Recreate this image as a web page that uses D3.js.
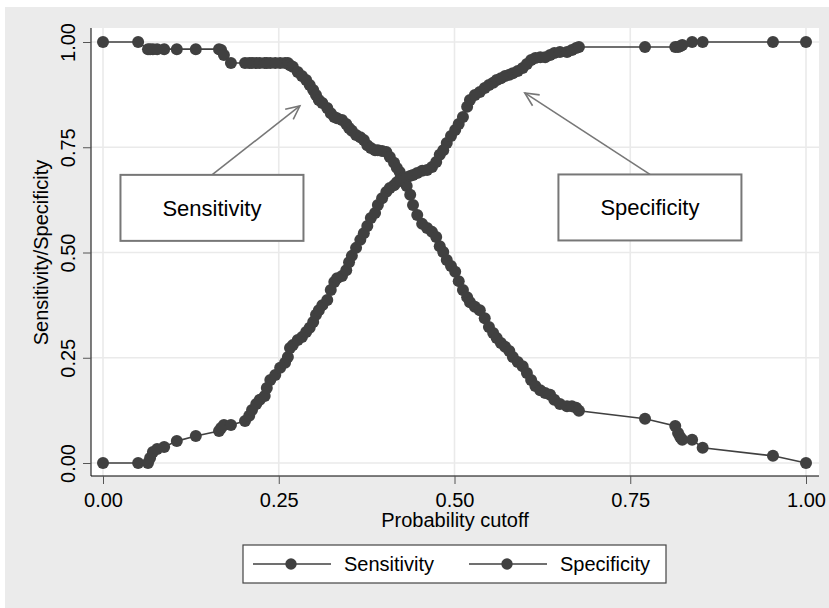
<!DOCTYPE html>
<html>
<head>
<meta charset="utf-8">
<script src="https://cdn.jsdelivr.net/npm/d3@7"></script>
<style>
  body { margin: 0; background: #fff; }
  svg text { font-family: "Liberation Sans", Arial, sans-serif; fill: #000; }
</style>
</head>
<body>
<div id="container"></div>
<script>
// probability cutoffs and the two curves evaluated at each cutoff
const cutoffs = [
  0, 0.050, 0.064, 0.067, 0.071, 0.077, 0.087, 0.105, 0.132, 0.165,
  0.168, 0.172, 0.182, 0.202, 0.208, 0.212, 0.218, 0.223, 0.230, 0.233,
  0.238, 0.245, 0.252, 0.259, 0.263, 0.266, 0.270, 0.277, 0.283, 0.289,
  0.294, 0.299, 0.303, 0.307, 0.312, 0.319, 0.324, 0.329, 0.333, 0.340,
  0.346, 0.350, 0.354, 0.360, 0.366, 0.371, 0.376, 0.381, 0.387, 0.391,
  0.397, 0.403, 0.408, 0.414, 0.418, 0.422, 0.428, 0.432, 0.437, 0.441,
  0.447, 0.454, 0.461, 0.468, 0.474, 0.479, 0.484, 0.489, 0.495, 0.501,
  0.506, 0.512, 0.518, 0.522, 0.529, 0.536, 0.543, 0.549, 0.555, 0.560,
  0.566, 0.572, 0.578, 0.583, 0.590, 0.597, 0.603, 0.609, 0.615, 0.622,
  0.629, 0.636, 0.642, 0.650, 0.660, 0.667, 0.673, 0.677, 0.771, 0.814,
  0.818, 0.821, 0.824, 0.838, 0.853, 0.953, 1.000
];
const sensitivity = [
  1.000, 1.000, 0.983, 0.983, 0.983, 0.983, 0.983, 0.983, 0.983, 0.983,
  0.981, 0.969, 0.950, 0.950, 0.950, 0.950, 0.950, 0.950, 0.950, 0.950,
  0.950, 0.950, 0.950, 0.950, 0.950, 0.945, 0.941, 0.929, 0.919, 0.910,
  0.898, 0.886, 0.874, 0.862, 0.855, 0.843, 0.831, 0.822, 0.819, 0.815,
  0.805, 0.796, 0.789, 0.779, 0.774, 0.767, 0.755, 0.748, 0.743, 0.743,
  0.741, 0.739, 0.727, 0.713, 0.701, 0.691, 0.677, 0.658, 0.637, 0.613,
  0.589, 0.568, 0.558, 0.549, 0.537, 0.515, 0.501, 0.482, 0.468, 0.454,
  0.432, 0.411, 0.394, 0.382, 0.371, 0.363, 0.344, 0.323, 0.309, 0.297,
  0.285, 0.276, 0.266, 0.252, 0.240, 0.230, 0.214, 0.197, 0.183, 0.173,
  0.166, 0.162, 0.150, 0.140, 0.135, 0.135, 0.131, 0.124, 0.105, 0.088,
  0.071, 0.062, 0.055, 0.055, 0.036, 0.017, 0
];
const specificity = [
  0, 0, 0, 0.012, 0.026, 0.033, 0.038, 0.052, 0.064, 0.076,
  0.083, 0.090, 0.090, 0.100, 0.112, 0.126, 0.140, 0.150, 0.159, 0.178,
  0.197, 0.209, 0.226, 0.238, 0.252, 0.273, 0.280, 0.292, 0.299, 0.311,
  0.321, 0.335, 0.352, 0.363, 0.375, 0.387, 0.411, 0.430, 0.439, 0.444,
  0.458, 0.477, 0.492, 0.511, 0.530, 0.546, 0.563, 0.582, 0.594, 0.613,
  0.629, 0.644, 0.653, 0.660, 0.667, 0.672, 0.677, 0.679, 0.682, 0.684,
  0.689, 0.694, 0.696, 0.703, 0.715, 0.732, 0.743, 0.760, 0.777, 0.791,
  0.805, 0.822, 0.846, 0.862, 0.874, 0.881, 0.891, 0.898, 0.903, 0.910,
  0.914, 0.919, 0.922, 0.926, 0.931, 0.938, 0.948, 0.957, 0.962, 0.964,
  0.964, 0.969, 0.974, 0.976, 0.976, 0.981, 0.986, 0.988, 0.988, 0.988,
  0.988, 0.990, 0.993, 1.000, 1.000, 1.000, 1.000
];
const tickValues = [0, 0.25, 0.5, 0.75, 1];
const seriesNames = ["Sensitivity", "Specificity"];

// text boxes with arrows (box centre and arrow tip in data units)
const notes = [
  {label: "Sensitivity", x: 0.155, y: 0.606, tipX: 0.280, tipY: 0.848},
  {label: "Specificity", x: 0.778, y: 0.607, tipX: 0.600, tipY: 0.879}
];

const W = 829, H = 608;
const dark = "#404040";

const svg = d3.select("#container").append("svg")
  .attr("width", W).attr("height", H);

svg.append("rect").attr("x", 5).attr("y", 7)
  .attr("width", W - 5).attr("height", H - 7).attr("fill", "#ebebeb");

const plot = {left: 91, right: 819, top: 28, bottom: 476};
svg.append("rect")
  .attr("x", plot.left).attr("y", plot.top)
  .attr("width", plot.right - plot.left).attr("height", plot.bottom - plot.top)
  .attr("fill", "#fff");

const x = d3.scaleLinear().domain([0, 1]).range([103, 806]);
const y = d3.scaleLinear().domain([0, 1]).range([463, 42]);

// grid
const grid = svg.append("g").attr("stroke", "#eaeaea").attr("stroke-width", 1.6);
grid.selectAll("line.h").data(tickValues).enter().append("line")
  .attr("x1", plot.left).attr("x2", plot.right)
  .attr("y1", d => y(d)).attr("y2", d => y(d));
grid.selectAll("line.v").data(tickValues).enter().append("line")
  .attr("y1", plot.top).attr("y2", plot.bottom)
  .attr("x1", d => x(d)).attr("x2", d => x(d));

// axes
const xAxis = svg.append("g").attr("transform", `translate(0,${plot.bottom})`)
  .call(d3.axisBottom(x).tickValues(tickValues).tickFormat(d3.format(".2f"))
    .tickSize(8).tickSizeOuter(0).tickPadding(9));
xAxis.select(".domain").attr("d", `M${plot.left},0H${plot.right}`).attr("stroke", "#000");
xAxis.selectAll(".tick line").attr("stroke", "#555");
xAxis.selectAll(".tick text").attr("font-size", 20).attr("dy", "0.71em");

const yAxis = svg.append("g").attr("transform", `translate(${plot.left},0)`)
  .call(d3.axisLeft(y).tickValues(tickValues).tickFormat(d3.format(".2f"))
    .tickSize(8).tickSizeOuter(0));
yAxis.select(".domain").attr("d", `M0,${plot.top}V${plot.bottom}`).attr("stroke", "#000");
yAxis.selectAll(".tick line").attr("stroke", "#555");
yAxis.selectAll(".tick text")
  .attr("font-size", 20)
  .attr("x", null).attr("dy", null)
  .attr("text-anchor", "middle")
  .attr("transform", "translate(-16,0) rotate(-90)");

svg.append("text")
  .attr("x", (plot.left + plot.right) / 2).attr("y", 527)
  .attr("text-anchor", "middle").attr("font-size", 20)
  .text("Probability cutoff");
svg.append("text")
  .attr("transform", `translate(48,${y(0.5)}) rotate(-90)`)
  .attr("text-anchor", "middle").attr("font-size", 20)
  .text("Sensitivity/Specificity");

// curves
const series = [sensitivity, specificity].map(vals =>
  cutoffs.map((c, i) => [c, vals[i]]));
const line = d3.line().x(d => x(d[0])).y(d => y(d[1]));

series.forEach(pts => {
  svg.append("path").attr("d", line(pts))
    .attr("fill", "none").attr("stroke", dark).attr("stroke-width", 1.6);
  svg.append("g").selectAll("circle").data(pts).enter().append("circle")
    .attr("cx", d => x(d[0])).attr("cy", d => y(d[1]))
    .attr("r", 6).attr("fill", dark);
});

// annotations
const boxW = 183, boxH = 66;
notes.forEach(n => {
  const cx = x(n.x), cy = y(n.y);
  const sx = cx, sy = cy - boxH / 2;
  const tx = x(n.tipX), ty = y(n.tipY);
  const g = svg.append("g").attr("stroke", "#777").attr("fill", "none");
  g.append("line").attr("x1", sx).attr("y1", sy).attr("x2", tx).attr("y2", ty)
    .attr("stroke-width", 1.6);
  const ang = Math.atan2(ty - sy, tx - sx);
  const len = 15, spread = 0.45;
  g.append("path")
    .attr("d", `M${tx - len * Math.cos(ang - spread)},${ty - len * Math.sin(ang - spread)}` +
      `L${tx},${ty}L${tx - len * Math.cos(ang + spread)},${ty - len * Math.sin(ang + spread)}`)
    .attr("stroke-width", 1.6);
  svg.append("rect")
    .attr("x", cx - boxW / 2).attr("y", cy - boxH / 2)
    .attr("width", boxW).attr("height", boxH)
    .attr("fill", "#fff").attr("stroke", "#777").attr("stroke-width", 2);
  svg.append("text").attr("x", cx).attr("y", cy + 8)
    .attr("text-anchor", "middle").attr("font-size", 22)
    .text(n.label);
});

// legend
const legend = svg.append("g");
legend.append("rect").attr("x", 243).attr("y", 545)
  .attr("width", 423).attr("height", 38)
  .attr("fill", "#fff").attr("stroke", "#444").attr("stroke-width", 1.2);
const legendX = [253, 469];
seriesNames.forEach((name, i) => {
  const lx = legendX[i];
  legend.append("line").attr("x1", lx).attr("x2", lx + 78)
    .attr("y1", 564).attr("y2", 564).attr("stroke", dark).attr("stroke-width", 1.6);
  legend.append("circle").attr("cx", lx + 38).attr("cy", 564).attr("r", 5.7).attr("fill", dark);
  legend.append("text").attr("x", lx + 91).attr("y", 571)
    .attr("font-size", 20).text(name);
});
</script>
</body>
</html>
